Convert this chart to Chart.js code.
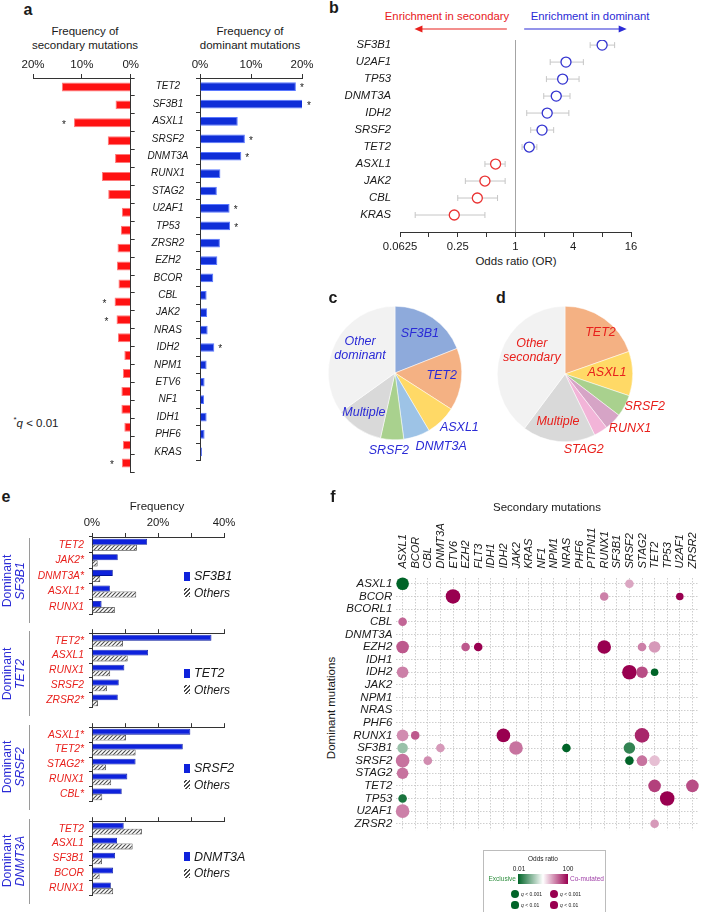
<!DOCTYPE html>
<html>
<head>
<meta charset="utf-8">
<script src="https://cdn.jsdelivr.net/npm/chart.js@4.4.0/dist/chart.umd.min.js"></script>
<style>
  html, body { margin: 0; padding: 0; background: #fff; overflow: hidden; }
  #page { position: relative; width: 706px; height: 912px; overflow: hidden;
          font-family: 'Liberation Sans', Arial, Helvetica, sans-serif; color: #1a1a1a; }
  #page canvas { position: absolute; }
  .t { position: absolute; white-space: nowrap; transform: translate(-50%, -50%); line-height: 1; }
  .rot { transform: translate(-50%, -50%) rotate(-90deg); }
  .box { position: absolute; }
</style>
</head>
<body>
<div id="page"></div>
<script>
// ---------- data ----------

// a: frequency of each gene as secondary / dominant mutation (%)
const genesA = ['TET2', 'SF3B1', 'ASXL1', 'SRSF2', 'DNMT3A', 'RUNX1', 'STAG2', 'U2AF1', 'TP53', 'ZRSR2', 'EZH2',
  'BCOR', 'CBL', 'JAK2', 'NRAS', 'IDH2', 'NPM1', 'ETV6', 'NF1', 'IDH1', 'PHF6', 'KRAS'];
const secondaryFreq = [14.1, 3.1, 11.6, 4.7, 3.2, 5.9, 4.6, 1.8, 2.0, 2.7, 2.8, 2.5, 3.3, 2.9, 2.6, 1.3, 1.6, 1.9, 1.9, 1.3, 1.6, 1.8];
const dominantFreq = [18.8, 20.2, 7.4, 8.8, 8.1, 4.0, 3.3, 5.8, 5.9, 3.9, 3.4, 2.6, 1.3, 1.4, 1.5, 2.8, 1.3, 0.9, 0.8, 1.3, 0.9, 0.4];
const secondaryStar = ['ASXL1', 'CBL', 'JAK2', 'KRAS'];
const dominantStar = ['TET2', 'SF3B1', 'SRSF2', 'DNMT3A', 'U2AF1', 'TP53', 'IDH2'];

// b: odds ratio (dominant vs secondary) with confidence interval
const genesB = ['SF3B1', 'U2AF1', 'TP53', 'DNMT3A', 'IDH2', 'SRSF2', 'TET2', 'ASXL1', 'JAK2', 'CBL', 'KRAS'];
const oddsB = [8.0, 3.36, 3.1, 2.66, 2.14, 1.89, 1.39, 0.62, 0.48, 0.40, 0.23];
const ciLowB = [6.0, 2.3, 2.1, 1.97, 1.31, 1.44, 1.17, 0.48, 0.30, 0.25, 0.09];
const ciHighB = [10.8, 5.1, 4.6, 3.7, 3.6, 2.5, 1.67, 0.78, 0.78, 0.65, 0.48];

// c, d: share of cases (%)
const pieCLabels = ['SF3B1', 'TET2', 'ASXL1', 'DNMT3A', 'SRSF2', 'Multiple', 'Other\ndominant'];
const pieCValues = [19.0, 15.1, 7.4, 6.4, 5.6, 11.6, 34.9];
const pieDLabels = ['TET2', 'ASXL1', 'SRSF2', 'RUNX1', 'STAG2', 'Multiple', 'Other\nsecondary'];
const pieDValues = [19.6, 10.6, 5.2, 4.1, 3.3, 17.4, 39.8];

// e: frequency of secondary mutations by dominant gene vs others (%)
const eGroupGenes = ['SF3B1', 'TET2', 'SRSF2', 'DNMT3A'];
const eLabelsSF3B1 = ['TET2', 'JAK2*', 'DNMT3A*', 'ASXL1*', 'RUNX1'];
const eDomSF3B1 = [16.7, 7.8, 6.3, 5.4, 2.9];
const eOthSF3B1 = [13.6, 1.7, 2.5, 13.4, 6.9];
const eLabelsTET2 = ['TET2*', 'ASXL1', 'RUNX1', 'SRSF2', 'ZRSR2*'];
const eDomTET2 = [36.2, 17.0, 9.8, 8.1, 7.8];
const eOthTET2 = [9.4, 10.8, 5.5, 4.5, 1.8];
const eLabelsSRSF2 = ['ASXL1*', 'TET2*', 'STAG2*', 'RUNX1', 'CBL*'];
const eDomSRSF2 = [29.8, 27.5, 13.2, 10.7, 9.0];
const eOthSRSF2 = [10.3, 13.2, 4.2, 5.8, 3.1];
const eLabelsDNMT3A = ['TET2', 'ASXL1', 'SF3B1', 'BCOR', 'RUNX1'];
const eDomDNMT3A = [9.6, 7.6, 7.0, 6.4, 5.7];
const eOthDNMT3A = [15.1, 12.3, 3.0, 2.3, 6.4];

// f: co-mutation map (log10 odds ratio and significance)
const dominantRows = ['ASXL1', 'BCOR', 'BCORL1', 'CBL', 'DNMT3A', 'EZH2', 'IDH1', 'IDH2', 'JAK2', 'NPM1', 'NRAS',
  'PHF6', 'RUNX1', 'SF3B1', 'SRSF2', 'STAG2', 'TET2', 'TP53', 'U2AF1', 'ZRSR2'];
const secondaryCols = ['ASXL1', 'BCOR', 'CBL', 'DNMT3A', 'ETV6', 'EZH2', 'FLT3', 'IDH1', 'IDH2', 'JAK2', 'KRAS', 'NF1',
  'NPM1', 'NRAS', 'PHF6', 'PTPN11', 'RUNX1', 'SF3B1', 'SRSF2', 'STAG2', 'TET2', 'TP53', 'U2AF1', 'ZRSR2'];
const bubDominant = ['ASXL1', 'ASXL1', 'BCOR', 'BCOR', 'BCOR', 'CBL', 'EZH2', 'EZH2', 'EZH2', 'EZH2', 'EZH2', 'EZH2',
  'IDH2', 'IDH2', 'IDH2', 'IDH2', 'RUNX1', 'RUNX1', 'RUNX1', 'RUNX1', 'SF3B1', 'SF3B1', 'SF3B1', 'SF3B1', 'SF3B1',
  'SRSF2', 'SRSF2', 'SRSF2', 'SRSF2', 'SRSF2', 'STAG2', 'TET2', 'TET2', 'TP53', 'TP53', 'U2AF1', 'ZRSR2'];
const bubSecondary = ['ASXL1', 'SRSF2', 'ETV6', 'RUNX1', 'U2AF1', 'ASXL1', 'ASXL1', 'EZH2', 'FLT3', 'RUNX1', 'STAG2', 'TET2',
  'ASXL1', 'SRSF2', 'STAG2', 'TET2', 'ASXL1', 'BCOR', 'IDH2', 'STAG2', 'ASXL1', 'DNMT3A', 'JAK2', 'NRAS', 'SRSF2',
  'ASXL1', 'CBL', 'SRSF2', 'STAG2', 'TET2', 'ASXL1', 'TET2', 'ZRSR2', 'ASXL1', 'TP53', 'ASXL1', 'TET2'];
const bubLogOR = [-2, 0.7, 2, 1.0, 2, 1.2, 1.3, 1.3, 2, 2, 1.0, 0.8,
  1.0, 2, 1.4, -2, 0.9, 1.3, 2, 1.7, -0.8, 0.8, 1.1, -2, -1.6,
  1.1, 0.9, -2, 1.1, 0.5, 1.1, 1.5, 1.4, -1.8, 2, 1.0, 0.8];
const bubSig = [4.5, 2.5, 5.5, 2.5, 2, 2.5, 4.5, 2.5, 2.5, 5, 2.5, 4,
  4, 5.5, 4, 2, 4, 2.5, 5, 5.5, 3.5, 2.5, 5, 2.5, 4,
  5, 2.5, 2.5, 3.5, 3.5, 4, 4.5, 4.5, 2.5, 5.5, 5, 2.5];

// ---------- styles ----------
const RED = '#e8201c';
const BLUE = '#2b2bd6';
const FONT = "'Liberation Sans', Arial, Helvetica, sans-serif";
const pieCColors = ['#8eaadb', '#f4b183', '#ffd966', '#9dc3e6', '#a9d18e', '#d9d9d9', '#f2f2f2'];
const pieDColors = ['#f4b183', '#ffd966', '#a9d18e', '#d6a4c6', '#f2b4d8', '#d9d9d9', '#f2f2f2'];
// label placement: radius factor and angle nudge (deg) from slice middle
const pieCPlace = [{r: 0.70, da: -2}, {r: 0.70, da: -3}, {r: 1.26, da: -6}, {r: 1.30, da: -13},
  {r: 1.17, da: 2}, {r: 0.75, da: 5}, {r: 0.64, da: 8}];
const pieDPlace = [{r: 0.81, da: 5}, {r: 0.62, da: -1}, {r: 1.27, da: -6}, {r: 1.25, da: -5},
  {r: 1.15, da: 18}, {r: 0.71, da: 3}, {r: 0.60, da: 17}];

Chart.defaults.font.family = FONT;
Chart.defaults.color = '#1a1a1a';
Chart.defaults.animation = false;
Chart.defaults.plugins.legend.display = false;
Chart.defaults.plugins.tooltip.enabled = false;

const page = document.getElementById('page');

function makeCanvas(left, top, w, h) {
  const c = document.createElement('canvas');
  c.width = w; c.height = h;
  c.style.left = left + 'px'; c.style.top = top + 'px';
  c.style.width = w + 'px'; c.style.height = h + 'px';
  page.appendChild(c);
  return c;
}

function text(x, y, html, css, cls) {
  const d = document.createElement('div');
  d.className = 't' + (cls ? ' ' + cls : '');
  d.innerHTML = html;
  d.style.left = x + 'px'; d.style.top = y + 'px';
  if (css) d.style.cssText += css;
  page.appendChild(d);
  return d;
}

function box(left, top, w, h, css) {
  const d = document.createElement('div');
  d.className = 'box';
  d.style.cssText = `left:${left}px;top:${top}px;width:${w}px;height:${h}px;` + (css || '');
  page.appendChild(d);
  return d;
}

// stars next to bar ends
const starPlugin = {
  id: 'stars',
  afterDatasetsDraw(chart, args, opts) {
    const meta = chart.getDatasetMeta(0);
    const ctx = chart.ctx;
    ctx.save();
    ctx.fillStyle = '#1a1a1a';
    ctx.font = '10px ' + FONT;
    ctx.textAlign = 'center';
    ctx.textBaseline = 'middle';
    chart.data.labels.forEach((g, i) => {
      if (opts.genes.includes(g)) {
        const bar = meta.data[i];
        ctx.fillText('*', bar.x + opts.dx, bar.y + 2);
      }
    });
    ctx.restore();
  }
};

// ---------- panel a ----------
text(28, 10, 'a', 'font-weight:bold;font-size:16px;');
text(85, 32, 'Frequency of', 'font-size:11.5px;');
text(85, 46, 'secondary mutations', 'font-size:11.5px;');
text(250, 32, 'Frequency of', 'font-size:11.5px;');
text(250, 46, 'dominant mutations', 'font-size:11.5px;');
text(36, 423, '<sup style="font-size:8px">*</sup><i>q</i> &lt; 0.01', 'font-size:11.5px;');

new Chart(makeCanvas(0, 52, 141, 422), {
  type: 'bar',
  data: {
    labels: genesA,
    datasets: [{ data: secondaryFreq, backgroundColor: '#ff1212', borderColor: '#ff7a7a', borderWidth: 1,
      barPercentage: 0.5, categoryPercentage: 1 }]
  },
  options: {
    indexAxis: 'y', responsive: false,
    layout: { padding: { left: 33, right: 0, top: 0, bottom: 2 } },
    scales: {
      x: { position: 'top', reverse: true, min: 0, max: 20,
        ticks: { stepSize: 10, padding: 2, maxRotation: 0, font: { size: 11.5 }, callback: v => v + '%' },
        grid: { drawOnChartArea: false, tickLength: 4, tickColor: '#333' },
        border: { color: '#333' },
        afterFit: s => { s.height = 26; } },
      y: { position: 'right', ticks: { display: false },
        grid: { drawOnChartArea: false, tickLength: 4, tickColor: '#333', offset: true },
        border: { color: '#333' },
        afterFit: s => { s.width = 6; } }
    },
    plugins: { stars: { genes: secondaryStar, dx: -10 } }
  },
  plugins: [starPlugin]
});

new Chart(makeCanvas(135, 52, 185, 422), {
  type: 'bar',
  data: {
    labels: genesA,
    datasets: [{ data: dominantFreq, backgroundColor: '#0f2ed8', borderColor: '#5a78ff', borderWidth: 1,
      barPercentage: 0.5, categoryPercentage: 1 }]
  },
  options: {
    indexAxis: 'y', responsive: false,
    layout: { padding: { left: 0, right: 18, top: 0, bottom: 2 } },
    scales: {
      x: { position: 'top', min: 0, max: 20,
        ticks: { stepSize: 10, padding: 2, maxRotation: 0, font: { size: 11.5 }, callback: v => v + '%' },
        grid: { drawOnChartArea: false, tickLength: 4, tickColor: '#333' },
        border: { color: '#333' },
        afterFit: s => { s.height = 26; } },
      y: { position: 'left',
        ticks: { crossAlign: 'center', padding: 7.5, autoSkip: false, font: { size: 10, style: 'italic' } },
        grid: { drawOnChartArea: false, tickLength: 4, tickColor: '#333', offset: true },
        border: { color: '#333' },
        afterFit: s => { s.width = 65; } }
    },
    plugins: { stars: { genes: dominantStar, dx: 6 } }
  },
  plugins: [starPlugin]
});

// ---------- panel b ----------
text(334, 8, 'b', 'font-weight:bold;font-size:16px;');
text(447, 17, 'Enrichment in secondary', `font-size:11.3px;color:${RED};`);
text(590, 17, 'Enrichment in dominant', `font-size:11.3px;color:${BLUE};`);
text(516, 262, 'Odds ratio (OR)', 'font-size:11.5px;');

const errorBars = {
  id: 'errorBars',
  beforeDatasetsDraw(chart) {
    const { ctx, scales: { x, y } } = chart;
    ctx.save();
    ctx.strokeStyle = '#c6c6c6';
    ctx.lineWidth = 1;
    genesB.forEach((g, i) => {
      const x1 = x.getPixelForValue(Math.log2(ciLowB[i]));
      const x2 = x.getPixelForValue(Math.log2(ciHighB[i]));
      const py = y.getPixelForValue(i);
      ctx.beginPath();
      ctx.moveTo(x1, py); ctx.lineTo(x2, py);
      ctx.moveTo(x1, py - 3); ctx.lineTo(x1, py + 3);
      ctx.moveTo(x2, py - 3); ctx.lineTo(x2, py + 3);
      ctx.stroke();
    });
    ctx.restore();
  }
};

function arrow(ctx, x1, x2, y, color) {
  const dir = Math.sign(x2 - x1);
  ctx.strokeStyle = color; ctx.fillStyle = color; ctx.lineWidth = 1.2;
  ctx.beginPath(); ctx.moveTo(x1, y); ctx.lineTo(x2 - dir * 6, y); ctx.stroke();
  ctx.beginPath(); ctx.moveTo(x2, y); ctx.lineTo(x2 - dir * 8, y - 3.5); ctx.lineTo(x2 - dir * 8, y + 3.5);
  ctx.closePath(); ctx.fill();
}

const enrichArrows = {
  id: 'enrichArrows',
  afterDraw(chart) {
    const { ctx, scales: { x } } = chart;
    ctx.save();
    arrow(ctx, x.getPixelForValue(-0.3), x.getPixelForValue(-3.5), 29, RED);
    arrow(ctx, x.getPixelForValue(0.3), x.getPixelForValue(3.85), 29, BLUE);
    ctx.restore();
  }
};

new Chart(makeCanvas(300, 0, 406, 275), {
  type: 'scatter',
  data: {
    datasets: [{
      data: genesB.map((g, i) => ({ x: Math.log2(oddsB[i]), y: i })),
      pointRadius: 5, pointHoverRadius: 5, pointBorderWidth: 1.3,
      pointBackgroundColor: '#ffffff',
      pointBorderColor: oddsB.map(v => v > 1 ? '#3333d0' : '#ea3232')
    }]
  },
  options: {
    responsive: false,
    layout: { padding: { top: 40, right: 75, left: 0, bottom: 0 } },
    scales: {
      x: { min: -4, max: 4,
        ticks: { stepSize: 1, autoSkip: false, maxRotation: 0, padding: 3, font: { size: 11.3 },
          callback: v => v % 2 === 0 ? String(Math.pow(2, v)) : '' },
        grid: { color: c => (c.tick && c.tick.value === 0) ? '#a4a4a4' : 'rgba(0,0,0,0)',
          tickColor: '#333', tickLength: 5 },
        border: { color: '#333' },
        afterFit: s => { s.height = 43; } },
      y: { reverse: true, min: -0.3, max: 11,
        afterBuildTicks: s => { s.ticks = genesB.map((g, i) => ({ value: i })); },
        ticks: { padding: 1, font: { size: 11.3, style: 'italic' }, callback: v => genesB[v] },
        grid: { display: false }, border: { display: false },
        afterFit: s => { s.width = 100; } }
    }
  },
  plugins: [errorBars, enrichArrows]
});

// ---------- panels c, d ----------
text(333, 298, 'c', 'font-weight:bold;font-size:16px;');
text(501, 298, 'd', 'font-weight:bold;font-size:16px;');

const pieLabels = {
  id: 'pieLabels',
  afterDatasetsDraw(chart, args, opts) {
    const ctx = chart.ctx;
    const arcs = chart.getDatasetMeta(0).data;
    ctx.save();
    ctx.fillStyle = opts.color;
    ctx.font = 'italic 12.5px ' + FONT;
    ctx.textAlign = 'center';
    ctx.textBaseline = 'middle';
    arcs.forEach((arc, i) => {
      const p = opts.place[i];
      const a = (arc.startAngle + arc.endAngle) / 2 + p.da * Math.PI / 180;
      const r = arc.outerRadius * p.r;
      const lines = chart.data.labels[i].split('\n');
      lines.forEach((ln, k) => {
        ctx.fillText(ln, arc.x + r * Math.cos(a), arc.y + r * Math.sin(a) + (k - (lines.length - 1) / 2) * 14);
      });
    });
    ctx.restore();
  }
};

new Chart(makeCanvas(320, 290, 180, 170), {
  type: 'pie',
  data: { labels: pieCLabels, datasets: [{ data: pieCValues, backgroundColor: pieCColors, borderColor: '#ffffff', borderWidth: 0.5 }] },
  options: {
    responsive: false,
    layout: { padding: { left: 8, top: 16, right: 38, bottom: 20 } },
    plugins: { pieLabels: { color: BLUE, place: pieCPlace } }
  },
  plugins: [pieLabels]
});

new Chart(makeCanvas(490, 290, 216, 170), {
  type: 'pie',
  data: { labels: pieDLabels, datasets: [{ data: pieDValues, backgroundColor: pieDColors, borderColor: '#ffffff', borderWidth: 0.5 }] },
  options: {
    responsive: false,
    layout: { padding: { left: 7, top: 16, right: 73, bottom: 18 } },
    plugins: { pieLabels: { color: RED, place: pieDPlace } }
  },
  plugins: [pieLabels]
});

// ---------- panel e ----------
text(6, 497, 'e', 'font-weight:bold;font-size:16px;');
text(157, 507, 'Frequency', 'font-size:11.5px;');

function hatchPattern() {
  const c = document.createElement('canvas');
  c.width = 4; c.height = 4;
  const g = c.getContext('2d');
  g.fillStyle = '#ffffff'; g.fillRect(0, 0, 4, 4);
  g.strokeStyle = '#4a4a4a'; g.lineWidth = 1.1;
  g.beginPath();
  g.moveTo(-1, 5); g.lineTo(5, -1);
  g.moveTo(-1, 1); g.lineTo(1, -1);
  g.moveTo(3, 5); g.lineTo(5, 3);
  g.stroke();
  return g.createPattern(c, 'repeat');
}
const hatch = hatchPattern();

const eLabels = [eLabelsSF3B1, eLabelsTET2, eLabelsSRSF2, eLabelsDNMT3A];
const eDom = [eDomSF3B1, eDomTET2, eDomSRSF2, eDomDNMT3A];
const eOth = [eOthSF3B1, eOthTET2, eOthSRSF2, eOthDNMT3A];
const eAxisY = [537, 630, 723.5, 817.5];
const eLegendDy = [39, 43, 44.5, 39];

eGroupGenes.forEach((gene, gi) => {
  const xh = gi === 0 ? 25 : 8;
  const top = eAxisY[gi] - xh;
  new Chart(makeCanvas(32, top, 210, xh + 86 + 3), {
    type: 'bar',
    data: {
      labels: eLabels[gi],
      datasets: [
        { data: eDom[gi], backgroundColor: '#0e22dc', borderColor: '#00129a', borderWidth: 0.8,
          categoryPercentage: 0.78, barPercentage: 1 },
        { data: eOth[gi], backgroundColor: hatch, borderColor: '#333', borderWidth: 0.8,
          categoryPercentage: 0.78, barPercentage: 1 }
      ]
    },
    options: {
      indexAxis: 'y', responsive: false,
      layout: { padding: { right: 18, bottom: 3 } },
      scales: {
        x: { position: 'top', min: 0, max: 40,
          ticks: { stepSize: 10, autoSkip: false, maxRotation: 0, padding: 3, font: { size: 11.3 },
            callback: v => (gi === 0 && v % 20 === 0) ? v + '%' : '' },
          grid: { drawOnChartArea: false, tickLength: 4, tickColor: '#333' },
          border: { color: '#333' },
          afterFit: s => { s.height = xh; } },
        y: { ticks: { color: RED, padding: 5, autoSkip: false, font: { size: 10.3, style: 'italic' } },
          grid: { drawOnChartArea: false, tickLength: 3, tickColor: '#333', offset: true },
          border: { color: '#333' },
          afterFit: s => { s.width = 60; } }
      }
    }
  });

  // bracket with rotated group title
  const y0 = eAxisY[gi] + 1, y1 = eAxisY[gi] + 86;
  box(28.5, y0, 1.5, y1 - y0, 'background:#9a9a9a;');
  text(7, (y0 + y1) / 2, 'Dominant', `font-size:12.3px;color:${BLUE};`, 'rot');
  text(20, (y0 + y1) / 2, gene, `font-size:12.3px;font-style:italic;color:${BLUE};`, 'rot');

  // legend
  const ly = eAxisY[gi] + eLegendDy[gi];
  box(183.5, ly - 4.5, 6.5, 9, 'background:#0e22dc;');
  text(194, ly, gene, 'font-size:12.5px;font-style:italic;transform:translate(0,-50%);');
  box(183.5, ly + 12, 6.5, 9, 'background:repeating-linear-gradient(-45deg,#4a4a4a 0 1.1px,#fff 1.1px 2.8px);');
  text(194, ly + 16.5, 'Others', 'font-size:12px;font-style:italic;transform:translate(0,-50%);');
});

// ---------- panel f ----------
text(333, 497, 'f', 'font-weight:bold;font-size:16px;');
text(547, 508, 'Secondary mutations', 'font-size:11.5px;');
text(332, 708, 'Dominant mutations', 'font-size:11.5px;', 'rot');

function orColor(lor) {
  const t = Math.max(-1, Math.min(1, lor / 2));
  const end = t >= 0 ? [153, 0, 80] : [0, 100, 40];
  const a = Math.abs(t);
  return 'rgb(' + end.map(e => Math.round(255 + (e - 255) * a)).join(',') + ')';
}

const colLabels = {
  id: 'colLabels',
  afterDraw(chart) {
    const { ctx, scales: { x }, chartArea } = chart;
    ctx.save();
    ctx.fillStyle = '#1a1a1a';
    ctx.font = 'italic 11px ' + FONT;
    ctx.textAlign = 'left';
    ctx.textBaseline = 'middle';
    secondaryCols.forEach((c, i) => {
      ctx.save();
      ctx.translate(x.getPixelForValue(i) + 0.5, chartArea.top - 9);
      ctx.rotate(-Math.PI / 2);
      ctx.fillText(c, 0, 0);
      ctx.restore();
    });
    ctx.restore();
  }
};

new Chart(makeCanvas(340, 515, 366, 326), {
  type: 'bubble',
  data: {
    datasets: [{
      data: bubDominant.map((d, i) => ({
        x: secondaryCols.indexOf(bubSecondary[i]),
        y: dominantRows.indexOf(d),
        r: 1.8 + bubSig[i]
      })),
      backgroundColor: bubLogOR.map(orColor),
      borderWidth: 0,
      clip: false
    }]
  },
  options: {
    responsive: false,
    layout: { padding: { right: 1.6, bottom: 1.8 } },
    scales: {
      x: { position: 'top', min: -0.5, max: 23.5,
        afterBuildTicks: s => { s.ticks = secondaryCols.map((c, i) => ({ value: i })); },
        ticks: { display: false },
        grid: { color: '#c2c2c2', lineWidth: 0.8, drawTicks: false },
        border: { display: false, dash: [1.5, 1.5] },
        afterFit: s => { s.height = 62.5; } },
      y: { reverse: true, min: -0.5, max: 19.5,
        afterBuildTicks: s => { s.ticks = dominantRows.map((r, i) => ({ value: i })); },
        ticks: { padding: 4, autoSkip: false, font: { size: 11.5, style: 'italic' }, callback: v => dominantRows[v] },
        grid: { color: '#c2c2c2', lineWidth: 0.8, drawTicks: false },
        border: { display: false, dash: [1.5, 1.5] },
        afterFit: s => { s.width = 56.3; } }
    }
  },
  plugins: [colLabels]
});

// odds ratio legend
box(483, 850, 123, 64, 'border:1px solid #bcbcbc;box-sizing:border-box;');
text(543, 859, 'Odds ratio', 'font-size:6.5px;');
text(519, 868.5, '0.01', 'font-size:6.5px;');
text(568, 868.5, '100', 'font-size:6.5px;');
box(518, 874, 50, 10, `background:linear-gradient(to right, ${orColor(-2)}, #ffffff, ${orColor(2)});`);
text(516, 879, 'Exclusive', 'font-size:6.5px;color:#2f8f3f;transform:translate(-100%,-50%);');
text(570, 879, 'Co-mutated', 'font-size:6.5px;color:#a040a8;transform:translate(0,-50%);');
[[894, 4.3, 'q &lt; 0.001'], [905, 3.6, 'q &lt; 0.01']].forEach(([cy, r, lab]) => {
  box(515 - r, cy - r, 2 * r, 2 * r, `border-radius:50%;background:${orColor(-2)};`);
  text(521, cy, `<i>${lab.slice(0, 1)}</i>${lab.slice(1)}`, 'font-size:5px;transform:translate(0,-50%);');
  box(554 - r, cy - r, 2 * r, 2 * r, `border-radius:50%;background:${orColor(2)};`);
  text(560, cy, `<i>${lab.slice(0, 1)}</i>${lab.slice(1)}`, 'font-size:5px;transform:translate(0,-50%);');
});
</script>
</body>
</html>
